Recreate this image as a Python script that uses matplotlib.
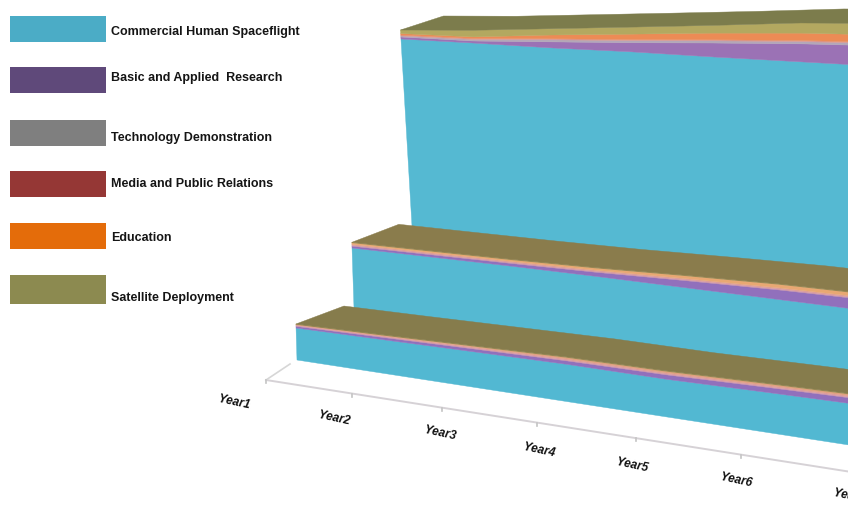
import matplotlib
matplotlib.use("Agg")
import matplotlib.pyplot as plt
import numpy as np
from matplotlib.patches import Rectangle

plt.rcParams["font.family"] = ["Liberation Sans", "DejaVu Sans"]

years = ["Year1", "Year2", "Year3", "Year4", "Year5", "Year6", "Year7"]
series_names = ["Commercial Human Spaceflight", "Basic and Applied  Research",
                "Technology Demonstration", "Media and Public Relations",
                "Education", "Satellite Deployment"]
legend_colors = ["#4BACC6", "#5F497A", "#7F7F7F", "#953735", "#E46C0A", "#8C8A50"]

# Rear scenario
rear_spaceflight = [187, 187, 186.5, 187, 186.5, 186.5, 186.5]
rear_research = [2, 2, 5.7, 8.4, 12.7, 16, 18]
rear_technology = [1, 1.5, 2, 2, 2, 2, 2]
rear_media = [1, 1, 1, 1, 1, 1, 1]
rear_education = [1.5, 1.5, 3.5, 5, 6, 6.5, 6.5]
rear_satellite = [3.5, 6.5, 6, 6.5, 7, 9, 10]

# Middle scenario
mid_spaceflight = [60, 60.5, 61, 61, 60.5, 60, 59.5]
mid_research = [1.8, 2.2, 2.6, 3.8, 6.4, 8.5, 9.5]
mid_technology = [0.7, 0.7, 0.7, 0.7, 0.7, 0.7, 0.7]
mid_media = [1.2, 1.2, 1.2, 1.2, 1.2, 1.2, 1.2]
mid_education = [1.5, 1.5, 1.6, 2, 2.5, 3, 3]
mid_satellite = [0.5, 0.5, 0.5, 0.5, 0.5, 0.5, 0.5]

# Front scenario
front_spaceflight = [32, 32.9, 33.9, 34.8, 34.3, 35.6, 36.6]
front_research = [1.6, 2.2, 2.7, 3.2, 4, 4.5, 5]
front_technology = [0.6, 0.6, 0.6, 0.6, 0.6, 0.6, 0.6]
front_media = [0.9, 0.9, 1, 1.1, 1.1, 1.1, 1.1]
front_education = [0.4, 0.6, 1, 1.5, 1.5, 1.5, 1.5]
front_satellite = [0.5, 0.5, 0.5, 0.5, 0.5, 0.5, 0.5]

fig = plt.figure(figsize=(8.48, 5.05), dpi=100)
ax = fig.add_axes([0, 0, 1, 1])
ax.set_xlim(0, 848)
ax.set_ylim(505, 0)
ax.axis("off")

PERSPECTIVE = 0.0231


def scale(t):
    return 1 / (1 - PERSPECTIVE * t)


def ribbon(stack, x0, y0, slope, k, lean, depth, face_colors, top_color):
    """Draw one stacked area band with its top surface in oblique perspective."""
    t = np.arange(len(years), dtype=float)
    s = scale(t)
    base_x = x0 + k * 84 * t * s
    base_y = y0 + slope * (base_x - x0)
    cum = np.cumsum(np.array(stack, dtype=float), axis=0)
    lower = np.zeros_like(t)
    for upper, color in zip(cum, face_colors):
        xs_hi = base_x - lean * upper * s
        ys_hi = base_y - upper * s
        xs_lo = base_x - lean * lower * s
        ys_lo = base_y - lower * s
        ax.fill(np.r_[xs_lo, xs_hi[::-1]], np.r_[ys_lo, ys_hi[::-1]],
                facecolor=color, edgecolor=color, lw=0.3)
        lower = upper
    ax.fill(np.r_[xs_hi, xs_hi[::-1] + depth[0]],
            np.r_[ys_hi, ys_hi[::-1] + depth[1]],
            facecolor=top_color, edgecolor=top_color, lw=0.3)


ribbon([rear_spaceflight, rear_research, rear_technology, rear_media,
        rear_education, rear_satellite],
       412, 226, 0.116, 0.85, 0.059, (43, -14),
       ["#55B9D2", "#9B72B5", "#B3A7B8", "#D9978F", "#EC8B55", "#B3A860"],
       "#7C7C4C")
ribbon([mid_spaceflight, mid_research, mid_technology, mid_media,
        mid_education, mid_satellite],
       354, 308, 0.139, 0.9, 0.033, (47, -18),
       ["#55B9D2", "#9170BC", "#C08FB0", "#DC9E9C", "#E8A873", "#A89258"],
       "#8A7C4C")
ribbon([front_spaceflight, front_research, front_technology, front_media,
        front_education, front_satellite],
       297, 360, 0.154, 1.0, 0.03, (48, -18),
       ["#52B8D2", "#9170BC", "#C08FB0", "#DC9CA2", "#E0A080", "#A89258"],
       "#867C4C")

# Year axis along the floor, with a short stub running into the depth
t_axis = np.linspace(0, 6.5, 30)
axis_x = 266 + 84 * t_axis * scale(t_axis)
axis_y = 380 + 13.2 * t_axis * scale(t_axis)
ax.plot(axis_x, axis_y, color="#D6D2D6", lw=1.4, zorder=1)
ax.plot([266, 290], [380, 364], color="#D6D6D6", lw=1.2, zorder=1)
label_dx = [-32, -18, -2, 2, -4, -5, -2]
label_dy = [22, 25, 26, 28, 27, 26, 24]
for i, name in enumerate(years):
    tick_x = 266 + 84 * i * scale(i)
    tick_y = 380 + 13.2 * i * scale(i)
    ax.plot([tick_x, tick_x], [tick_y, tick_y + 3], color="#C4C4C4", lw=1.2, zorder=1)
    ax.text(tick_x + label_dx[i], tick_y + label_dy[i], name, fontsize=8.6,
            fontweight="bold", style="italic", rotation=-12,
            rotation_mode="anchor", ha="center", va="center", color="#111111")

# Legend blocks down the left side
box_tops = [16, 67, 120, 171, 223, 275]
box_heights = [26, 26, 26, 26, 26, 29]
text_y = [32, 78, 138, 184, 238, 298]
for name, color, top, height, y in zip(series_names, legend_colors, box_tops, box_heights, text_y):
    ax.add_patch(Rectangle((10, top), 96, height, facecolor=color, edgecolor="none"))
    ax.text(111, y, name, fontsize=9, fontweight="bold", va="center", ha="left",
            color="#151515")

fig.savefig("out.png", dpi=100)
